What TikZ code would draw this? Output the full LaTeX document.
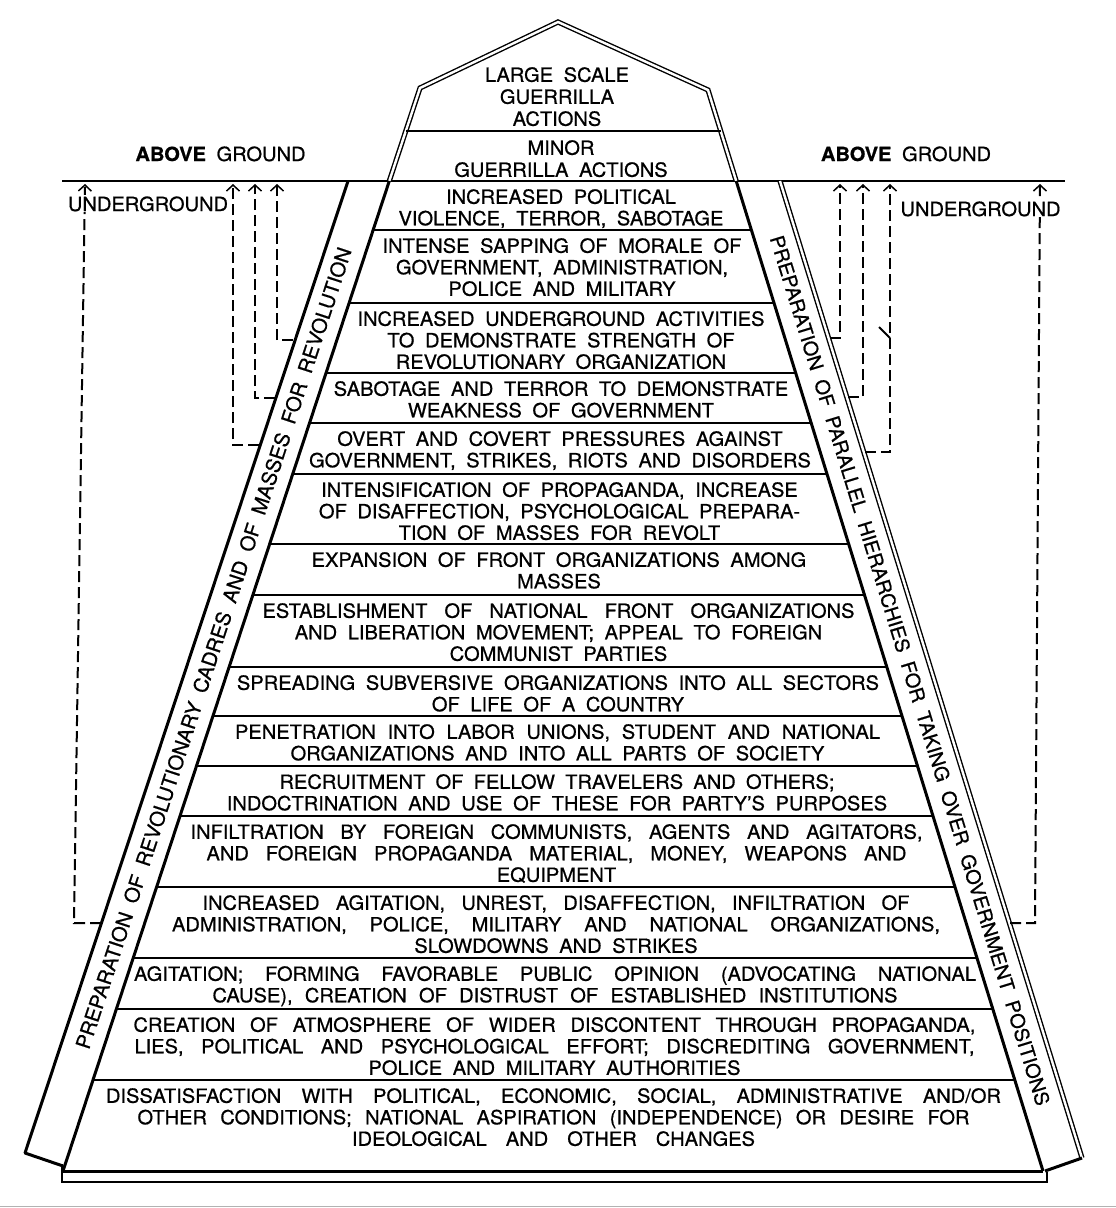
\documentclass[tikz,border=0pt]{standalone}
\usepackage{fontspec}
\setmainfont{TeX Gyre Heros}[WordSpace=1.9, FakeStretch=1.03, FakeBold=0.7]
\usetikzlibrary{arrows.meta}
\newcommand{\wline}[2]{\makebox[#1][s]{#2}}
\begin{document}
\begin{tikzpicture}[x=1pt,y=-1pt,
  rowtxt/.style={align=center, anchor=north, inner sep=0pt, font=\fontsize{19.5}{21.5}\selectfont},
  lbl/.style={anchor=base, inner sep=0pt, font=\fontsize{19.5}{21.5}\selectfont},
  undl/.style={anchor=base, inner sep=1pt, fill=white, font=\fontsize{19.5}{21.5}\selectfont},
  bandtxt/.style={inner sep=0pt, font=\fontsize{20}{22}\selectfont},
  pyedge/.style={line width=3pt, line join=round},
  rowline/.style={line width=2.3pt},
  dblline/.style={line width=1.4pt, double distance=2.4pt, line join=miter},
  uarrow/.style={line width=2pt, dash pattern=on 11pt off 5pt, -{Straight Barb[length=6pt,width=13pt,line width=1.5pt]}},
]
\useasboundingbox (0,0) rectangle (1116,1208);

% key points
\coordinate (apex) at (558,22);
\coordinate (sL) at (420,88);
\coordinate (sR) at (708,90);
\coordinate (pL) at (389.3,181);
\coordinate (pR) at (736.2,181);
\coordinate (bL) at (63,1171);
\coordinate (bR) at (1043,1171);
\coordinate (lbT) at (348,181);
\coordinate (lbB) at (25,1153);
\coordinate (lbB2) at (63,1166);
\coordinate (rbT) at (780,181);
\coordinate (rbB) at (1082,1158);
\coordinate (rbB2) at (1045,1171);
\coordinate (gL) at (62,181);
\coordinate (gR) at (1065,181);

% ground line
\draw[line width=2.8pt] (gL) -- (gR);

% above-ground cap
\draw[dblline] (pL) -- (sL) -- (apex) -- (sR) -- (pR);

% pyramid sides (below ground)
\draw[pyedge] (pL) -- (bL);
\draw[pyedge] (pR) -- (bR);

% bands
\draw[pyedge] (lbT) -- (lbB) -- (lbB2);
\draw[dblline] (rbT) -- (rbB);
\draw[pyedge] (rbB) -- (rbB2);

% base
\draw[pyedge] (bL) -- (bR);
\draw[line width=2.8pt] (62,1164) -- (62,1182) -- (1047,1182) -- (1047,1172);

% row lines
\draw[rowline] (405.8,131) -- (720.7,131);
\draw[rowline] (373.2,230) -- (751.4,230);
\draw[rowline] (349.1,303) -- (774.0,303);
\draw[rowline] (326.1,373) -- (795.7,373);
\draw[rowline] (309.6,423) -- (811.2,423);
\draw[rowline] (292.8,474) -- (827.0,474);
\draw[rowline] (269.7,544) -- (848.7,544);
\draw[rowline] (252.9,595) -- (864.5,595);
\draw[rowline] (229.1,667) -- (886.8,667);
\draw[rowline] (213.0,716) -- (902.0,716);
\draw[rowline] (196.5,766) -- (917.5,766);
\draw[rowline] (180.0,816) -- (933.0,816);
\draw[rowline] (156.6,887) -- (955.0,887);
\draw[rowline] (133.2,958) -- (977.0,958);
\draw[rowline] (116.4,1009) -- (992.8,1009);
\draw[rowline] (93.0,1080) -- (1014.8,1080);

% row texts
\node[rowtxt, font=\fontsize{19.5}{22}\selectfont] (t1) at (557,67) {LARGE SCALE\\GUERRILLA\\ACTIONS};
\node[rowtxt, font=\fontsize{19.5}{22}\selectfont] (t2) at (561,140) {MINOR\\GUERRILLA ACTIONS};
\node[rowtxt] (t3) at (561,189) {INCREASED POLITICAL\\VIOLENCE, TERROR, SABOTAGE};
\node[rowtxt] (t4) at (562,238) {INTENSE SAPPING OF MORALE OF\\GOVERNMENT, ADMINISTRATION,\\POLICE AND MILITARY};
\node[rowtxt] (t5) at (561,311) {INCREASED UNDERGROUND ACTIVITIES\\TO DEMONSTRATE STRENGTH OF\\REVOLUTIONARY ORGANIZATION};
\node[rowtxt] (t6) at (561,381) {SABOTAGE AND TERROR TO DEMONSTRATE\\WEAKNESS OF GOVERNMENT};
\node[rowtxt] (t7) at (560,431) {OVERT AND COVERT PRESSURES AGAINST\\GOVERNMENT, STRIKES, RIOTS AND DISORDERS};
\node[rowtxt] (t8) at (559.5,482) {INTENSIFICATION OF PROPAGANDA, INCREASE\\OF DISAFFECTION, PSYCHOLOGICAL PREPARA-\\TION OF MASSES FOR REVOLT};
\node[rowtxt] (t9) at (559,552) {EXPANSION OF FRONT ORGANIZATIONS AMONG\\MASSES};
\node[rowtxt] (t10) at (558.5,603) {\wline{592pt}{ESTABLISHMENT OF NATIONAL FRONT ORGANIZATIONS}\\AND LIBERATION MOVEMENT; APPEAL TO FOREIGN\\COMMUNIST PARTIES};
\node[rowtxt] (t11) at (558,675) {SPREADING SUBVERSIVE ORGANIZATIONS INTO ALL SECTORS\\OF LIFE OF A COUNTRY};
\node[rowtxt] (t12) at (557.5,724) {\wline{645pt}{PENETRATION INTO LABOR UNIONS, STUDENT AND NATIONAL}\\ORGANIZATIONS AND INTO ALL PARTS OF SOCIETY};
\node[rowtxt] (t13) at (557,774) {\wline{555pt}{RECRUITMENT OF FELLOW TRAVELERS AND OTHERS;}\\INDOCTRINATION AND USE OF THESE FOR PARTY'S PURPOSES};
\node[rowtxt] (t14) at (556.5,824) {\wline{732pt}{INFILTRATION BY FOREIGN COMMUNISTS, AGENTS AND AGITATORS,}\\\wline{700pt}{AND FOREIGN PROPAGANDA MATERIAL, MONEY, WEAPONS AND}\\EQUIPMENT};
\node[rowtxt] (t15) at (556,895) {\wline{707pt}{INCREASED AGITATION, UNREST, DISAFFECTION, INFILTRATION OF}\\\wline{768pt}{ADMINISTRATION, POLICE, MILITARY AND NATIONAL ORGANIZATIONS,}\\SLOWDOWNS AND STRIKES};
\node[rowtxt] (t16) at (555,966) {\wline{842pt}{AGITATION; FORMING FAVORABLE PUBLIC OPINION (ADVOCATING NATIONAL}\\\wline{685pt}{CAUSE), CREATION OF DISTRUST OF ESTABLISHED INSTITUTIONS}};
\node[rowtxt] (t17) at (554.5,1017) {\wline{842pt}{CREATION OF ATMOSPHERE OF WIDER DISCONTENT THROUGH PROPAGANDA,}\\\wline{840pt}{LIES, POLITICAL AND PSYCHOLOGICAL EFFORT; DISCREDITING GOVERNMENT,}\\POLICE AND MILITARY AUTHORITIES};
\node[rowtxt] (t18) at (553.5,1088) {\wline{895pt}{DISSATISFACTION WITH POLITICAL, ECONOMIC, SOCIAL, ADMINISTRATIVE AND/OR}\\\wline{832pt}{OTHER CONDITIONS; NATIONAL ASPIRATION (INDEPENDENCE) OR DESIRE FOR}\\\wline{403pt}{IDEOLOGICAL AND OTHER CHANGES}};

% band texts
\node[bandtxt, rotate=71.8] (lband) at (213.5,648) {\resizebox{842pt}{15pt}{PREPARATION OF REVOLUTIONARY CADRES AND OF MASSES FOR REVOLUTION}};
\node[bandtxt, rotate=-72.9] (rband) at (910,670.5) {\resizebox{909pt}{14.5pt}{PREPARATION OF PARALLEL HIERARCHIES FOR TAKING OVER GOVERNMENT POSITIONS}};

% dashed arrows, left
\coordinate (a1s) at (101,923); \coordinate (a1c) at (74,923); \coordinate (a1t) at (85,184);
\coordinate (a2s) at (293,340); \coordinate (a2c) at (277,340); \coordinate (a2t) at (277,184);
\coordinate (a3s) at (275,398); \coordinate (a3c) at (255,398); \coordinate (a3t) at (255,184);
\coordinate (a4s) at (259,445); \coordinate (a4c) at (233,445); \coordinate (a4t) at (233,184);
\draw[uarrow] (a1s) -- (a1c) -- (a1t);
\draw[uarrow] (a2s) -- (a2c) -- (a2t);
\draw[uarrow] (a3s) -- (a3c) -- (a3t);
\draw[uarrow] (a4s) -- (a4c) -- (a4t);

% dashed arrows, right
\coordinate (b1s) at (830,338); \coordinate (b1c) at (840,338); \coordinate (b1t) at (840,184);
\coordinate (b2s) at (848,397); \coordinate (b2c) at (863,397); \coordinate (b2t) at (863,184);
\coordinate (b3s) at (865,452); \coordinate (b3c) at (890,452); \coordinate (b3t) at (890,184);
\coordinate (b4s) at (1010,923); \coordinate (b4c) at (1035,923); \coordinate (b4t) at (1040,184);
\draw[uarrow] (b1s) -- (b1c) -- (b1t);
\draw[uarrow] (b2s) -- (b2c) -- (b2t);
\draw[uarrow] (b3s) -- (b3c) -- (b3t);
\draw[uarrow] (b4s) -- (b4c) -- (b4t);
\coordinate (m1) at (879,327); \coordinate (m2) at (890,338);
\draw[line width=1.8pt] (m1) -- (m2);

% labels
\node[lbl] (agL) at (220.5,161) {\textbf{ABOVE} GROUND};
\node[lbl] (agR) at (906,161) {\textbf{ABOVE} GROUND};
\node[undl] (ugL) at (148,211) {UNDERGROUND};
\node[undl] (ugR) at (980.5,216) {UNDERGROUND};

% bottom border line
\draw[gray!60, line width=1.5pt] (0,1206.5) -- (1116,1206.5);
\end{tikzpicture}
\end{document}
